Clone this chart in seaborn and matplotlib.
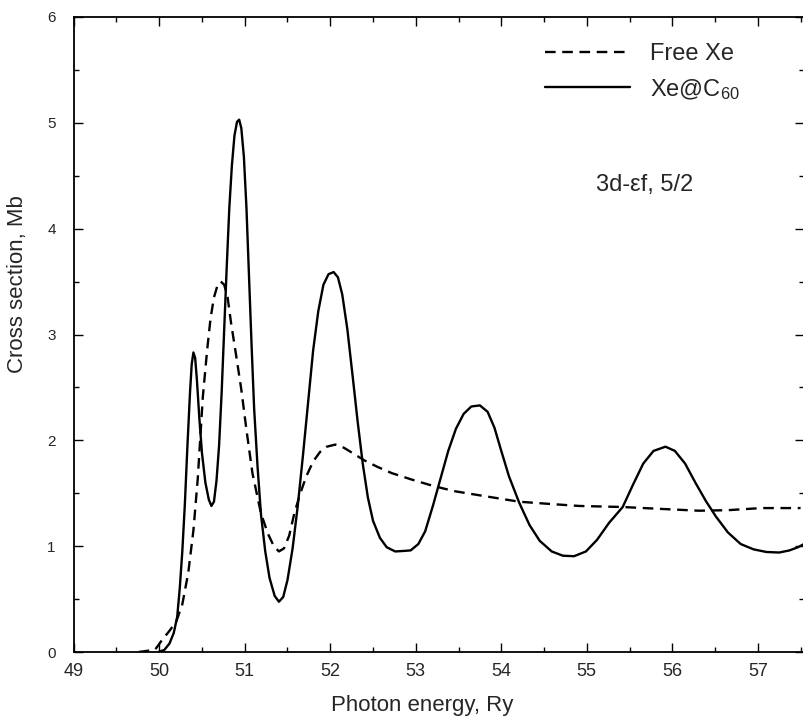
"""
Xe 3d -> ef (j=5/2) photoionization cross section: free Xe vs Xe@C60
"""

import matplotlib
matplotlib.use('Agg')
import matplotlib.pyplot as plt
from matplotlib.ticker import MultipleLocator
import seaborn as sns

# ── Data ──────────────────────────────────────────────────────
free_x = [49.76, 49.85, 49.95, 50.03, 50.12, 50.20, 50.27, 50.34, 50.40, 50.45,
          50.51, 50.56, 50.60, 50.64, 50.68, 50.72, 50.76, 50.80, 50.84, 50.90,
          50.96, 51.02, 51.09, 51.19, 51.27, 51.34, 51.40, 51.46, 51.52, 51.58,
          51.65, 51.72, 51.80, 51.88, 51.96, 52.06, 52.16, 52.28, 52.40, 52.55,
          52.72, 52.95, 53.20, 53.45, 53.75, 54.21, 54.55, 54.91, 55.42, 55.92,
          56.31, 56.65, 57.04, 57.50]
free_y = [0.00, 0.01, 0.02, 0.11, 0.20, 0.29, 0.45, 0.75, 1.15, 1.63,
          2.41, 2.85, 3.15, 3.35, 3.46, 3.50, 3.47, 3.35, 3.11, 2.80,
          2.48, 2.10, 1.69, 1.31, 1.12, 1.00, 0.95, 0.98, 1.10, 1.31,
          1.50, 1.66, 1.80, 1.89, 1.94, 1.96, 1.93, 1.87, 1.81, 1.75,
          1.69, 1.63, 1.57, 1.52, 1.48, 1.42, 1.40, 1.38, 1.37, 1.35,
          1.335, 1.34, 1.36, 1.36]

cage_x = [49.99, 50.06, 50.12, 50.17, 50.21, 50.24, 50.27, 50.30, 50.33, 50.36,
          50.38, 50.40, 50.42, 50.44, 50.47, 50.50, 50.54, 50.58, 50.61, 50.64,
          50.67, 50.70, 50.73, 50.76, 50.79, 50.82, 50.85, 50.88, 50.91, 50.935,
          50.96, 50.99, 51.02, 51.05, 51.08, 51.11, 51.15, 51.19, 51.24, 51.29,
          51.35, 51.40, 51.45, 51.50, 51.56, 51.62, 51.68, 51.74, 51.80, 51.86,
          51.92, 51.98, 52.04, 52.09, 52.14, 52.20, 52.26, 52.32, 52.38, 52.44,
          52.50, 52.58, 52.66, 52.76, 52.86, 52.94, 53.03, 53.11, 53.20, 53.29,
          53.38, 53.47, 53.56, 53.65, 53.75, 53.84, 53.92, 54.00, 54.09, 54.21,
          54.33, 54.45, 54.59, 54.72, 54.85, 54.99, 55.12, 55.26, 55.42, 55.54,
          55.66, 55.78, 55.92, 56.03, 56.15, 56.27, 56.39, 56.51, 56.65, 56.80,
          56.95, 57.10, 57.25, 57.37, 57.47, 57.54]
cage_y = [0.00, 0.02, 0.08, 0.18, 0.33, 0.60, 0.95, 1.40, 1.95, 2.45,
          2.72, 2.83, 2.78, 2.58, 2.20, 1.88, 1.60, 1.44, 1.38, 1.42,
          1.62, 1.95, 2.45, 3.05, 3.65, 4.20, 4.60, 4.88, 5.01, 5.03,
          4.95, 4.68, 4.20, 3.55, 2.90, 2.30, 1.75, 1.30, 0.95, 0.70,
          0.53, 0.475, 0.52, 0.68, 0.98, 1.38, 1.85, 2.35, 2.85, 3.22,
          3.47, 3.57, 3.59, 3.54, 3.38, 3.05, 2.62, 2.18, 1.78, 1.46,
          1.24, 1.08, 0.99, 0.95, 0.955, 0.96, 1.02, 1.14, 1.38, 1.64,
          1.90, 2.11, 2.25, 2.32, 2.33, 2.27, 2.12, 1.90, 1.66, 1.41,
          1.20, 1.05, 0.95, 0.91, 0.905, 0.95, 1.06, 1.22, 1.37, 1.58,
          1.78, 1.90, 1.94, 1.90, 1.78, 1.60, 1.43, 1.28, 1.13, 1.02,
          0.97, 0.945, 0.94, 0.96, 0.99, 1.02]

labels = ['Free Xe', 'Xe@C$_{60}$']
annotation = '3d-εf, 5/2'

# ── Style ─────────────────────────────────────────────────────
sns.set_style('ticks')
plt.rcParams['font.family'] = ['Liberation Sans', 'DejaVu Sans']
plt.rcParams['mathtext.default'] = 'regular'

fig = plt.figure(figsize=(8.04, 7.17), dpi=100)
ax = fig.add_axes([73.7 / 804, 65 / 717, 730.3 / 804, 635 / 717])

sns.lineplot(x=free_x, y=free_y, ax=ax, color='black', lw=1.7,
             linestyle=(0, (4.5, 2.8)), sort=False, estimator=None, label=labels[0])
sns.lineplot(x=cage_x, y=cage_y, ax=ax, color='black', lw=1.7,
             sort=False, estimator=None, label=labels[1])

ax.set_xlim(49, 57.54)
ax.set_ylim(0, 6)
ax.xaxis.set_major_locator(MultipleLocator(1))
ax.xaxis.set_minor_locator(MultipleLocator(0.5))
ax.yaxis.set_major_locator(MultipleLocator(1))
ax.yaxis.set_minor_locator(MultipleLocator(0.5))

ax.tick_params(which='both', direction='in', top=True, right=True,
               width=1.0, color='black')
ax.tick_params(which='major', length=6.5)
ax.tick_params(which='minor', length=3.6)
ax.tick_params(axis='x', labelsize=13, pad=8)
ax.tick_params(axis='y', labelsize=11, pad=13)
for s in ax.spines.values():
    s.set_linewidth(1.3)
    s.set_color('black')

ax.set_xlabel('Photon energy, Ry', fontsize=16)
ax.set_ylabel('Cross section, Mb', fontsize=16)
ax.xaxis.set_label_coords(0.477, -0.068)
ax.yaxis.set_label_coords(-0.062, 0.58)

ax.text(55.68, 4.41, annotation, fontsize=17, ha='center', va='center')

ax.legend(loc='upper left', bbox_to_anchor=(545 / 804, 1 - 43 / 717),
          bbox_transform=fig.transFigure, frameon=False, fontsize=17,
          handlelength=3.6, handletextpad=0.85, labelspacing=0.5,
          borderpad=0, borderaxespad=0)

fig.savefig('out.png', dpi=100)
